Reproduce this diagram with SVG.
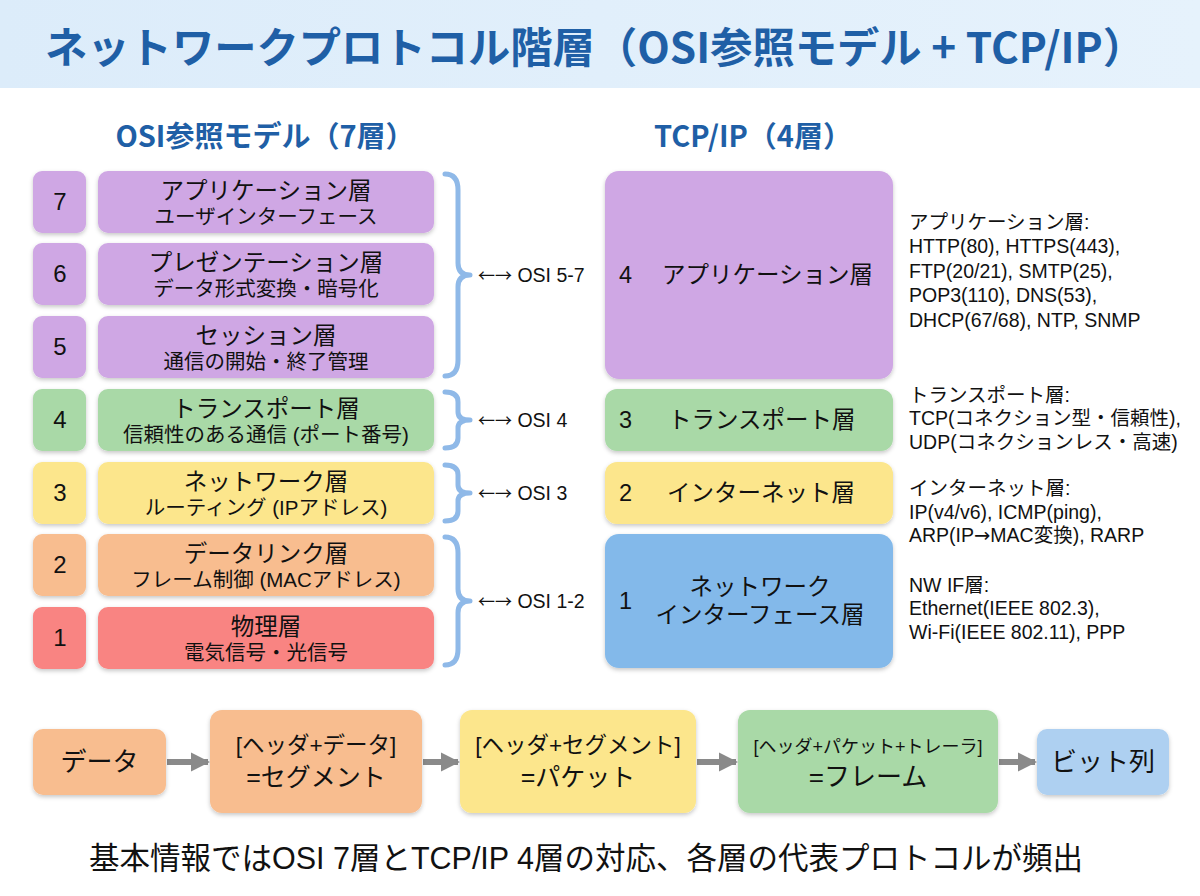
<svg xmlns="http://www.w3.org/2000/svg" width="1200" height="896" viewBox="0 0 1200 896">
<defs>
<linearGradient id="band" x1="0" y1="0" x2="1" y2="0">
<stop offset="0" stop-color="#dcecfa"/>
<stop offset="1" stop-color="#e6f2fc"/>
</linearGradient>
<filter id="sh" x="-10%" y="-10%" width="120%" height="130%">
<feDropShadow dx="0" dy="2" stdDeviation="2" flood-color="#000" flood-opacity="0.22"/>
</filter>
<marker id="ah" viewBox="0 0 10 10" refX="9" refY="5" markerWidth="3.2" markerHeight="3.6" orient="auto" markerUnits="strokeWidth">
<path d="M0,0 L10,5 L0,10 z" fill="#8a8a8a"/>
</marker>
</defs>
<style>
text{font-family:"Liberation Sans","Noto Sans CJK JP",sans-serif;fill:#111}
.t{font-family:"Noto Sans CJK JP","Liberation Sans",sans-serif;font-weight:bold;fill:#1f5fa6}
.h{font-size:29px;text-anchor:middle}
.b{filter:url(#sh)}
.pu{fill:#cfa7e4}.gr{fill:#a9d9a7}.ye{fill:#fce68c}.or{fill:#f8bd8f}.re{fill:#f98482}.bl{fill:#83b9ea}.lb{fill:#aed0f1}
.n{font-size:24px;text-anchor:middle}
.l1{font-size:23.5px;text-anchor:middle}
.l2{font-size:20.5px;text-anchor:middle}
.r{font-size:23.5px}
.o{font-size:19.5px}
.cj{font-family:"Noto Sans CJK JP",sans-serif}
.d{font-size:19.5px}
.br{fill:none;stroke:#8fb9e8;stroke-width:5;stroke-linecap:round;stroke-linejoin:round}
.ar{fill:none;stroke:#8a8a8a;stroke-width:6;marker-end:url(#ah)}
.f{text-anchor:middle}
</style>
<rect x="0" y="0" width="1200" height="88" fill="url(#band)"/>
<text class="t" x="595" y="63" font-size="42" text-anchor="middle" textLength="1100" lengthAdjust="spacingAndGlyphs">ネットワークプロトコル階層（OSI参照モデル + TCP/IP）</text>
<text class="t h" x="265" y="147">OSI参照モデル（7層）</text>
<text class="t h" x="753" y="147">TCP/IP（4層）</text>

<g id="osi7"><rect class="b pu" x="33" y="171" width="53" height="62" rx="9"/><rect class="b pu" x="98" y="171" width="336" height="62" rx="10"/>
<text class="n" x="60" y="210">7</text><text class="l1" x="266" y="199">アプリケーション層</text><text class="l2" x="266" y="224">ユーザインターフェース</text></g>
<g id="osi6"><rect class="b pu" x="33" y="243" width="53" height="62" rx="9"/><rect class="b pu" x="98" y="243" width="336" height="62" rx="10"/>
<text class="n" x="60" y="282">6</text><text class="l1" x="266" y="271">プレゼンテーション層</text><text class="l2" x="266" y="296">データ形式変換・暗号化</text></g>
<g id="osi5"><rect class="b pu" x="33" y="316" width="53" height="62" rx="9"/><rect class="b pu" x="98" y="316" width="336" height="62" rx="10"/>
<text class="n" x="60" y="355">5</text><text class="l1" x="266" y="344">セッション層</text><text class="l2" x="266" y="369">通信の開始・終了管理</text></g>
<g id="osi4"><rect class="b gr" x="33" y="389" width="53" height="62" rx="9"/><rect class="b gr" x="98" y="389" width="336" height="62" rx="10"/>
<text class="n" x="60" y="428">4</text><text class="l1" x="266" y="417">トランスポート層</text><text class="l2" x="266" y="442">信頼性のある通信 (ポート番号)</text></g>
<g id="osi3"><rect class="b ye" x="33" y="462" width="53" height="62" rx="9"/><rect class="b ye" x="98" y="462" width="336" height="62" rx="10"/>
<text class="n" x="60" y="501">3</text><text class="l1" x="266" y="490">ネットワーク層</text><text class="l2" x="266" y="515">ルーティング (IPアドレス)</text></g>
<g id="osi2"><rect class="b or" x="33" y="534" width="53" height="62" rx="9"/><rect class="b or" x="98" y="534" width="336" height="62" rx="10"/>
<text class="n" x="60" y="573">2</text><text class="l1" x="266" y="562">データリンク層</text><text class="l2" x="266" y="587">フレーム制御 (MACアドレス)</text></g>
<g id="osi1"><rect class="b re" x="33" y="607" width="53" height="62" rx="9"/><rect class="b re" x="98" y="607" width="336" height="62" rx="10"/>
<text class="n" x="60" y="646">1</text><text class="l1" x="266" y="635">物理層</text><text class="l2" x="266" y="660">電気信号・光信号</text></g>

<g id="tcp4"><rect class="b pu" x="605" y="171" width="288" height="208" rx="14"/>
<text class="r" x="619" y="283">4</text><text class="r" x="662" y="283">アプリケーション層</text></g>
<g id="tcp3"><rect class="b gr" x="605" y="389" width="288" height="62" rx="12"/>
<text class="r" x="619" y="428">3</text><text class="r" x="668" y="428">トランスポート層</text></g>
<g id="tcp2"><rect class="b ye" x="605" y="462" width="288" height="62" rx="12"/>
<text class="r" x="619" y="501">2</text><text class="r" x="667" y="501">インターネット層</text></g>
<g id="tcp1"><rect class="b bl" x="605" y="534" width="288" height="134" rx="14"/>
<text class="r" x="619" y="609">1</text><text class="r f" x="760" y="595">ネットワーク</text><text class="r f" x="760" y="623">インターフェース層</text></g>

<g id="connectors">
<path class="br" d="M445,174 Q458,174 458,190 L458,263 Q458,275 470,275 Q458,275 458,287 L458,360 Q458,376 445,376"/>
<path class="br" d="M445,392 Q458,392 458,402 L458,412 Q458,420 470,420 Q458,420 458,428 L458,438 Q458,448 445,448"/>
<path class="br" d="M445,465 Q458,465 458,475 L458,485 Q458,493 470,493 Q458,493 458,501 L458,511 Q458,521 445,521"/>
<path class="br" d="M445,537 Q458,537 458,553 L458,589 Q458,601 470,601 Q458,601 458,613 L458,649 Q458,665 445,665"/>
<path class="ar" d="M167,762 L208,762"/>
<path class="ar" d="M423,762 L458,762"/>
<path class="ar" d="M697,762 L736,762"/>
<path class="ar" d="M999,762 L1035,762"/>
</g>
<text class="o" x="478" y="282"><tspan class="cj" font-size="17">←→</tspan> OSI 5-7</text>
<text class="o" x="478" y="427"><tspan class="cj" font-size="17">←→</tspan> OSI 4</text>
<text class="o" x="478" y="500"><tspan class="cj" font-size="17">←→</tspan> OSI 3</text>
<text class="o" x="478" y="608"><tspan class="cj" font-size="17">←→</tspan> OSI 1-2</text>

<g id="desc">
<text class="d" x="909" y="229">アプリケーション層:</text>
<text class="d" x="909" y="253">HTTP(80), HTTPS(443),</text>
<text class="d" x="909" y="278">FTP(20/21), SMTP(25),</text>
<text class="d" x="909" y="302">POP3(110), DNS(53),</text>
<text class="d" x="909" y="327">DHCP(67/68), NTP, SNMP</text>
<text class="d" x="909" y="402">トランスポート層:</text>
<text class="d" x="909" y="425">TCP(コネクション型・信頼性),</text>
<text class="d" x="909" y="449">UDP(コネクションレス・高速)</text>
<text class="d" x="909" y="495">インターネット層:</text>
<text class="d" x="909" y="519">IP(v4/v6), ICMP(ping),</text>
<text class="d" x="909" y="542">ARP(IP<tspan font-family="DejaVu Sans, sans-serif">→</tspan>MAC変換), RARP</text>
<text class="d" x="909" y="592">NW IF層:</text>
<text class="d" x="909" y="615">Ethernet(IEEE 802.3),</text>
<text class="d" x="909" y="639">Wi-Fi(IEEE 802.11), PPP</text>
</g>

<g id="f1"><rect class="b or" x="33" y="729" width="133" height="66" rx="10"/><text class="f" x="99.5" y="771" font-size="26">データ</text></g>
<g id="f2"><rect class="b or" x="210" y="710" width="212" height="103" rx="12"/><text class="f" x="316" y="753" font-size="22.5">[ヘッダ+データ]</text><text class="f" x="316" y="786" font-size="25">=セグメント</text></g>
<g id="f3"><rect class="b ye" x="460" y="710" width="236" height="103" rx="12"/><text class="f" x="578" y="753" font-size="22.5">[ヘッダ+セグメント]</text><text class="f" x="578" y="786" font-size="25">=パケット</text></g>
<g id="f4"><rect class="b gr" x="738" y="710" width="260" height="103" rx="12"/><text class="f" x="868" y="753" font-size="18">[ヘッダ+パケット+トレーラ]</text><text class="f" x="868" y="786" font-size="26">=フレーム</text></g>
<g id="f5"><rect class="b lb" x="1037" y="729" width="132" height="66" rx="10"/><text class="f" x="1103" y="771" font-size="26">ビット列</text></g>

<text x="586" y="869" font-size="30.5" text-anchor="middle">基本情報ではOSI 7層とTCP/IP 4層の対応、各層の代表プロトコルが頻出</text>
</svg>
